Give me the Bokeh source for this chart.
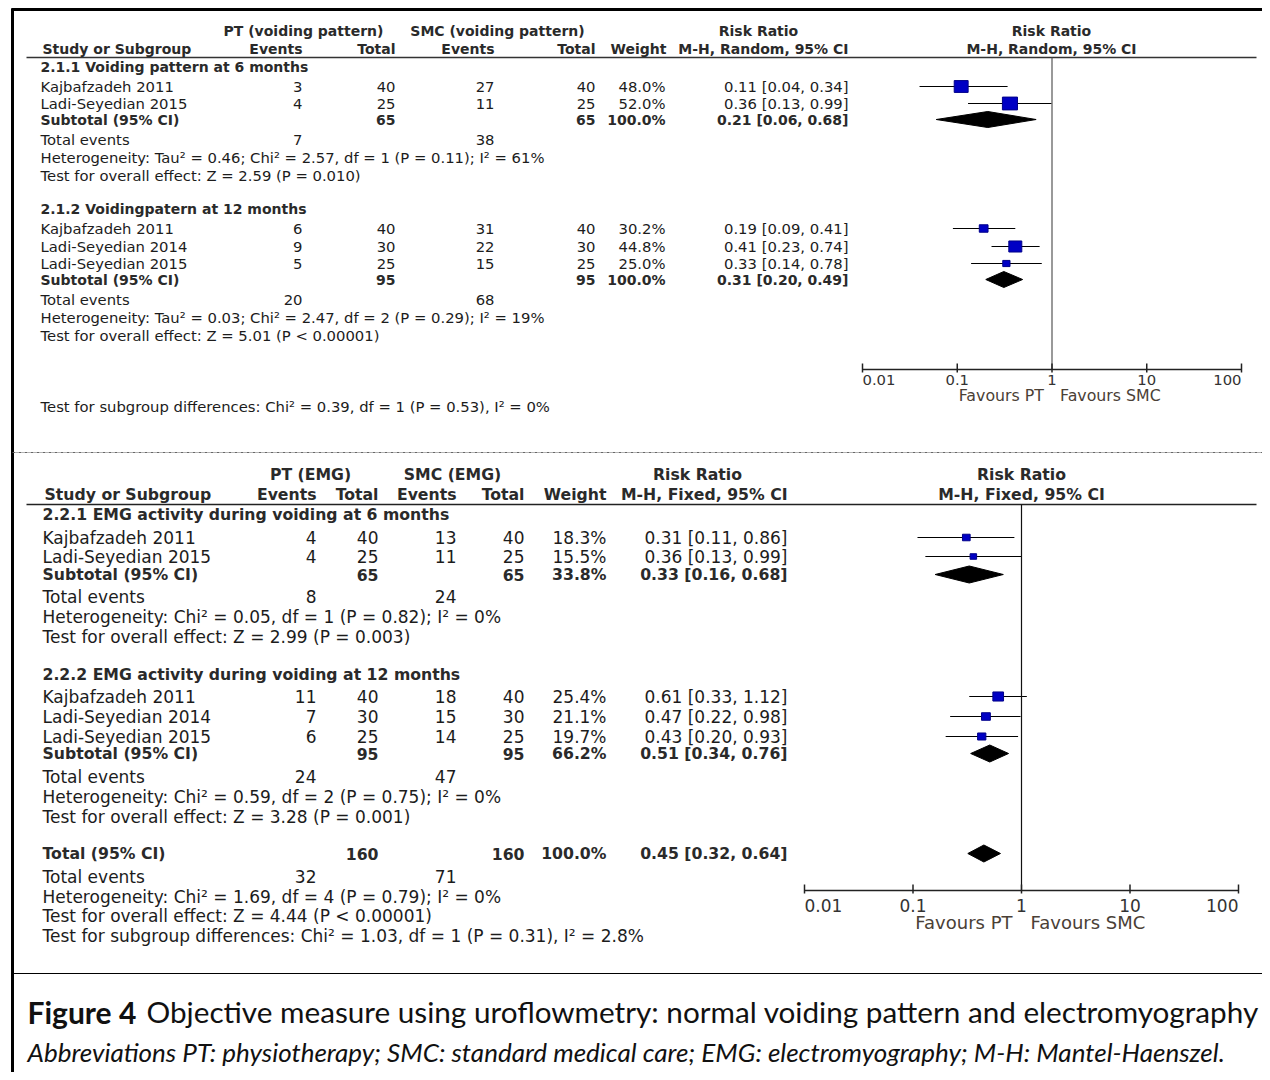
import math
from bokeh.plotting import figure
from bokeh.models import Range1d, LogScale
from bokeh.core.properties import value
from bokeh.embed import file_html
from bokeh.resources import INLINE

# ---------------- DATA ----------------
# Comparison 2.1: voiding pattern (M-H, Random)
v6_study = ["Kajbafzadeh 2011", "Ladi-Seyedian 2015"]
v6_pt_events = [3, 4]
v6_pt_total = [40, 25]
v6_smc_events = [27, 11]
v6_smc_total = [40, 25]
v6_weight = [48.0, 52.0]
v6_rr = [0.11, 0.36]
v6_lo = [0.04, 0.13]
v6_hi = [0.34, 0.99]
v6_sub = [0.21, 0.06, 0.68]          # RR, lower, upper
v6_sub_totals = [65, 65, 100.0]      # PT total, SMC total, weight
v6_sub_events = [7, 38]
v6_het = "Heterogeneity: Tau\u00b2 = 0.46; Chi\u00b2 = 2.57, df = 1 (P = 0.11); I\u00b2 = 61%"
v6_z = "Test for overall effect: Z = 2.59 (P = 0.010)"

v12_study = ["Kajbafzadeh 2011", "Ladi-Seyedian 2014", "Ladi-Seyedian 2015"]
v12_pt_events = [6, 9, 5]
v12_pt_total = [40, 30, 25]
v12_smc_events = [31, 22, 15]
v12_smc_total = [40, 30, 25]
v12_weight = [30.2, 44.8, 25.0]
v12_rr = [0.19, 0.41, 0.33]
v12_lo = [0.09, 0.23, 0.14]
v12_hi = [0.41, 0.74, 0.78]
v12_sub = [0.31, 0.20, 0.49]
v12_sub_totals = [95, 95, 100.0]
v12_sub_events = [20, 68]
v12_het = "Heterogeneity: Tau\u00b2 = 0.03; Chi\u00b2 = 2.47, df = 2 (P = 0.29); I\u00b2 = 19%"
v12_z = "Test for overall effect: Z = 5.01 (P < 0.00001)"
v_subgroup_test = "Test for subgroup differences: Chi\u00b2 = 0.39, df = 1 (P = 0.53), I\u00b2 = 0%"

# Comparison 2.2: EMG activity (M-H, Fixed)
e6_study = ["Kajbafzadeh 2011", "Ladi-Seyedian 2015"]
e6_pt_events = [4, 4]
e6_pt_total = [40, 25]
e6_smc_events = [13, 11]
e6_smc_total = [40, 25]
e6_weight = [18.3, 15.5]
e6_rr = [0.31, 0.36]
e6_lo = [0.11, 0.13]
e6_hi = [0.86, 0.99]
e6_sub = [0.33, 0.16, 0.68]
e6_sub_totals = [65, 65, 33.8]
e6_sub_events = [8, 24]
e6_het = "Heterogeneity: Chi\u00b2 = 0.05, df = 1 (P = 0.82); I\u00b2 = 0%"
e6_z = "Test for overall effect: Z = 2.99 (P = 0.003)"

e12_study = ["Kajbafzadeh 2011", "Ladi-Seyedian 2014", "Ladi-Seyedian 2015"]
e12_pt_events = [11, 7, 6]
e12_pt_total = [40, 30, 25]
e12_smc_events = [18, 15, 14]
e12_smc_total = [40, 30, 25]
e12_weight = [25.4, 21.1, 19.7]
e12_rr = [0.61, 0.47, 0.43]
e12_lo = [0.33, 0.22, 0.20]
e12_hi = [1.12, 0.98, 0.93]
e12_sub = [0.51, 0.34, 0.76]
e12_sub_totals = [95, 95, 66.2]
e12_sub_events = [24, 47]
e12_het = "Heterogeneity: Chi\u00b2 = 0.59, df = 2 (P = 0.75); I\u00b2 = 0%"
e12_z = "Test for overall effect: Z = 3.28 (P = 0.001)"

e_total = [0.45, 0.32, 0.64]
e_total_totals = [160, 160, 100.0]
e_total_events = [32, 71]
e_total_het = "Heterogeneity: Chi\u00b2 = 1.69, df = 4 (P = 0.79); I\u00b2 = 0%"
e_total_z = "Test for overall effect: Z = 4.44 (P < 0.00001)"
e_subgroup_test = "Test for subgroup differences: Chi\u00b2 = 1.03, df = 1 (P = 0.31), I\u00b2 = 2.8%"

axis_ticks = [0.01, 0.1, 1, 10, 100]
axis_tick_labels = ["0.01", "0.1", "1", "10", "100"]

caption_bold = "Figure 4"
caption_text = "Objective measure using uroflowmetry: normal voiding pattern and electromyography"
caption_note = "Abbreviations PT: physiotherapy; SMC: standard medical care; EMG: electromyography; M-H: Mantel-Haenszel."

# ---------------- FIGURE ----------------
W, H = 1262, 1072
p = figure(width=W, height=H, x_range=Range1d(0, W), y_range=Range1d(H, 0),
           output_backend="svg", toolbar_location=None, min_border=0,
           x_axis_location=None, y_axis_location=None)
p.grid.visible = False
p.outline_line_color = None
p.background_fill_color = "white"
p.border_fill_color = "white"


# log scales for the two forest panels (pixel position of RR=1, pixels per decade)
def log_range(null_px, per_dec):
    return Range1d(10 ** ((0 - null_px) / per_dec), 10 ** ((W - null_px) / per_dec))


p.extra_x_ranges = {"top": log_range(1051.5, 94.75), "bot": log_range(1021.0, 108.5)}
p.extra_x_scales = {"top": LogScale(), "bot": LogScale()}

FONT = "DejaVu Sans"
TXT = "#1c1c1c"
HDR = "#2a2a2a"


def txt(x, y, s, size, bold=False, align="left", color=TXT, font=FONT, style=None):
    p.text(x=[x], y=[y], text=[s], text_font=value(font), text_font_size=f"{size}px",
           text_font_style=style or ("bold" if bold else "normal"), text_align=align,
           text_baseline="middle", text_color=color)


def hline(x0, x1, y, width=1, color="black", dash="solid"):
    p.segment(x0=[x0], y0=[y], x1=[x1], y1=[y], line_color=color, line_width=width, line_dash=dash)


# frame borders
hline(11, W, 9, width=3)
p.segment(x0=[12], y0=[8], x1=[12], y1=[H], line_color="black", line_width=3)
hline(12, W, 973, width=1.2)
hline(12, W, 452, width=1, color="#666666", dash="3 1 1 1")


def draw_rows(rng, ys, study, pt_ev, pt_n, smc_ev, smc_n, weight, rr, lo, hi,
              cols, size, box_k):
    for i in range(len(study)):
        y = ys[i]
        txt(cols["name"], y, study[i], size)
        txt(cols["pt_ev"], y, str(pt_ev[i]), size, align="right")
        txt(cols["pt_n"], y, str(pt_n[i]), size, align="right")
        txt(cols["smc_ev"], y, str(smc_ev[i]), size, align="right")
        txt(cols["smc_n"], y, str(smc_n[i]), size, align="right")
        txt(cols["w"], y, f"{weight[i]:.1f}%", size, align="right")
        txt(cols["rr"], y, f"{rr[i]:.2f} [{lo[i]:.2f}, {hi[i]:.2f}]", size, align="right")
    p.segment(x0=lo, x1=hi, y0=ys, y1=ys, line_color="black", line_width=1, x_range_name=rng)
    widths = [box_k * w for w in weight]
    heights = [0.85 * box_k * w for w in weight]
    p.rect(x=rr, y=ys, width=widths, height=heights, width_units="screen", height_units="screen",
           fill_color="#0000c4", line_color="#00008a", line_width=1, x_range_name=rng)


def draw_summary(rng, y, label, summ, totals, cols, size, bsize, half_h, events=None, ev_y=None,
                 het=None, het_y=None, z=None, z_y=None):
    txt(cols["name"], y, label, bsize, bold=True, color=HDR)
    txt(cols["pt_n"], y, str(totals[0]), bsize, bold=True, align="right", color=HDR)
    txt(cols["smc_n"], y, str(totals[1]), bsize, bold=True, align="right", color=HDR)
    txt(cols["w"], y, f"{totals[2]:.1f}%", bsize, bold=True, align="right", color=HDR)
    txt(cols["rr"], y, f"{summ[0]:.2f} [{summ[1]:.2f}, {summ[2]:.2f}]", bsize, bold=True,
        align="right", color=HDR)
    p.patches(xs=[[summ[1], summ[0], summ[2], summ[0]]], ys=[[y, y - half_h, y, y + half_h]],
              fill_color="black", line_color="black", x_range_name=rng)
    if events is not None:
        txt(cols["name"], ev_y, "Total events", size)
        txt(cols["pt_ev"], ev_y, str(events[0]), size, align="right")
        txt(cols["smc_ev"], ev_y, str(events[1]), size, align="right")
    if het is not None:
        txt(cols["name"], het_y, het, size)
    if z is not None:
        txt(cols["name"], z_y, z, size)


def draw_axis(rng, y, y_top, null_color, size, lab_dy, fav_dy, fav_size, fav_gap):
    p.segment(x0=[1], x1=[1], y0=[y_top], y1=[y], line_color=null_color, line_width=1.2,
              x_range_name=rng)
    p.segment(x0=[axis_ticks[0]], x1=[axis_ticks[-1]], y0=[y], y1=[y], line_color="#222222",
              line_width=1.5, x_range_name=rng)
    p.segment(x0=axis_ticks, x1=axis_ticks, y0=[y - 6] * 5, y1=[y + 3] * 5,
              line_color="#222222", line_width=1.5, x_range_name=rng)
    aligns = ["left", "center", "center", "center", "right"]
    for t, lab, al in zip(axis_ticks, axis_tick_labels, aligns):
        p.text(x=[t], y=[y + lab_dy], text=[lab], text_font=value(FONT),
               text_font_size=f"{size}px", text_align=al, text_baseline="middle",
               text_color="#333333", x_range_name=rng)
    p.text(x=[1], y=[y + fav_dy], text=["Favours PT"], text_font=value(FONT),
           text_font_size=f"{fav_size}px", text_align="right", text_baseline="middle",
           text_color="#4a4036", x_offset=-fav_gap, x_range_name=rng)
    p.text(x=[1], y=[y + fav_dy], text=["Favours SMC"], text_font=value(FONT),
           text_font_size=f"{fav_size}px", text_align="left", text_baseline="middle",
           text_color="#4a4036", x_offset=fav_gap, x_range_name=rng)


# ---------------- TOP: voiding pattern ----------------
ts, tb = 14.8, 14
tcols = dict(name=40, pt_ev=302, pt_n=395, smc_ev=494, smc_n=595, w=665, rr=848)
txt(303, 30, "PT (voiding pattern)", tb, bold=True, align="center", color=HDR)
txt(497, 30, "SMC (voiding pattern)", tb, bold=True, align="center", color=HDR)
txt(758, 30, "Risk Ratio", tb, bold=True, align="center", color=HDR)
txt(1051, 30, "Risk Ratio", tb, bold=True, align="center", color=HDR)
txt(42, 48, "Study or Subgroup", tb, bold=True, color=HDR)
txt(302, 48, "Events", tb, bold=True, align="right", color=HDR)
txt(395, 48, "Total", tb, bold=True, align="right", color=HDR)
txt(494, 48, "Events", tb, bold=True, align="right", color=HDR)
txt(595, 48, "Total", tb, bold=True, align="right", color=HDR)
txt(666, 48, "Weight", tb, bold=True, align="right", color=HDR)
txt(848, 48, "M-H, Random, 95% CI", tb, bold=True, align="right", color=HDR)
txt(1051, 48, "M-H, Random, 95% CI", tb, bold=True, align="center", color=HDR)
hline(26, 1256, 57, width=1.5, color="#333333")

txt(40, 66, "2.1.1 Voiding pattern at 6 months", tb, bold=True, color=HDR)
draw_rows("top", [86, 103], v6_study, v6_pt_events, v6_pt_total, v6_smc_events, v6_smc_total,
          v6_weight, v6_rr, v6_lo, v6_hi, tcols, ts, 0.29)
draw_summary("top", 119, "Subtotal (95% CI)", v6_sub, v6_sub_totals, tcols, ts, tb, 8,
             v6_sub_events, 139, v6_het, 157, v6_z, 175)

txt(40, 208, "2.1.2 Voidingpatern at 12 months", tb, bold=True, color=HDR)
draw_rows("top", [228, 246, 263], v12_study, v12_pt_events, v12_pt_total, v12_smc_events,
          v12_smc_total, v12_weight, v12_rr, v12_lo, v12_hi, tcols, ts, 0.29)
draw_summary("top", 279, "Subtotal (95% CI)", v12_sub, v12_sub_totals, tcols, ts, tb, 8,
             v12_sub_events, 299, v12_het, 317, v12_z, 335)
txt(40, 406, v_subgroup_test, ts)
draw_axis("top", 369, 57, "#555555", ts, 10, 26, 15.8, 8)

# ---------------- BOTTOM: EMG ----------------
bs, bb = 17, 15.7
bcols = dict(name=42, pt_ev=316, pt_n=378, smc_ev=456, smc_n=524, w=606, rr=787)
txt(310, 474, "PT (EMG)", bb, bold=True, align="center", color=HDR)
txt(452, 474, "SMC (EMG)", bb, bold=True, align="center", color=HDR)
txt(697, 474, "Risk Ratio", bb, bold=True, align="center", color=HDR)
txt(1021, 474, "Risk Ratio", bb, bold=True, align="center", color=HDR)
txt(44, 494, "Study or Subgroup", bb, bold=True, color=HDR)
txt(316, 494, "Events", bb, bold=True, align="right", color=HDR)
txt(378, 494, "Total", bb, bold=True, align="right", color=HDR)
txt(456, 494, "Events", bb, bold=True, align="right", color=HDR)
txt(524, 494, "Total", bb, bold=True, align="right", color=HDR)
txt(606, 494, "Weight", bb, bold=True, align="right", color=HDR)
txt(787, 494, "M-H, Fixed, 95% CI", bb, bold=True, align="right", color=HDR)
txt(1021, 494, "M-H, Fixed, 95% CI", bb, bold=True, align="center", color=HDR)
hline(26, 1256, 504, width=1.5, color="#222222")

txt(42, 514, "2.2.1 EMG activity during voiding at 6 months", bb, bold=True, color=HDR)
draw_rows("bot", [537, 556], e6_study, e6_pt_events, e6_pt_total, e6_smc_events, e6_smc_total,
          e6_weight, e6_rr, e6_lo, e6_hi, bcols, bs, 0.42)
draw_summary("bot", 574, "Subtotal (95% CI)", e6_sub, e6_sub_totals, bcols, bs, bb, 8.5,
             e6_sub_events, 596, e6_het, 616, e6_z, 636)

txt(42, 674, "2.2.2 EMG activity during voiding at 12 months", bb, bold=True, color=HDR)
draw_rows("bot", [696, 716, 736], e12_study, e12_pt_events, e12_pt_total, e12_smc_events,
          e12_smc_total, e12_weight, e12_rr, e12_lo, e12_hi, bcols, bs, 0.42)
draw_summary("bot", 753, "Subtotal (95% CI)", e12_sub, e12_sub_totals, bcols, bs, bb, 8.5,
             e12_sub_events, 776, e12_het, 796, e12_z, 816)

draw_summary("bot", 853, "Total (95% CI)", e_total, e_total_totals, bcols, bs, bb, 8.5,
             e_total_events, 876, e_total_het, 896, e_total_z, 915)
txt(42, 935, e_subgroup_test, bs)
draw_axis("bot", 890, 504, "#111111", bs, 15, 32, 18, 9)

# ---------------- CAPTION ----------------
txt(27, 1011, caption_bold, 30, bold=True, color="#111111", font="Lato")
txt(146, 1011, caption_text, 29.7, color="#111111", font="Lato")
txt(27, 1051, caption_note, 26, color="#111111", font="Lato", style="italic")

open("out.html", "w").write(file_html(p, INLINE))
